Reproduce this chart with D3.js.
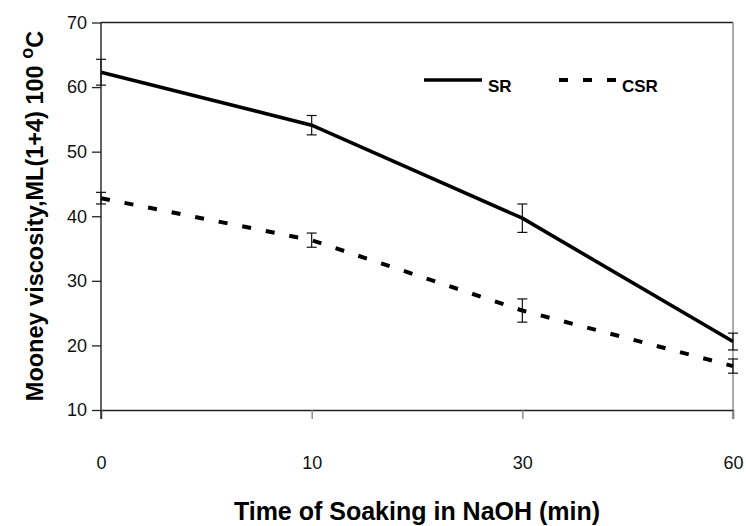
<!DOCTYPE html>
<html>
<head>
<meta charset="utf-8">
<script src="https://cdn.jsdelivr.net/npm/d3@7"></script>
<style>
  body { margin: 0; background: #fff; }
  text { font-family: "Liberation Sans", Arial, sans-serif; }
</style>
</head>
<body>
<div id="chart"></div>
<script>
// data
var times = ["0", "10", "30", "60"];
var srValues = [62.3, 54.1, 39.7, 20.6];
var srErrors = [2.0, 1.5, 2.2, 1.3];
var csrValues = [42.8, 36.3, 25.4, 16.8];
var csrErrors = [0.9, 1.1, 1.8, 1.1];
var yTicks = [10, 20, 30, 40, 50, 60, 70];

var margin = { top: 22.5, right: 13, bottom: 116, left: 101 },
    width = 746 - margin.left - margin.right,
    height = 526 - margin.top - margin.bottom;

var svg = d3.select("#chart").append("svg")
    .attr("width", 746)
    .attr("height", 526);

var g = svg.append("g")
    .attr("transform", "translate(" + margin.left + "," + margin.top + ")");

var x = d3.scalePoint().domain(times).range([0, width]);
var y = d3.scaleLinear().domain([10, 70]).range([height, 0]);

// frame top and right
g.append("line")
    .attr("x1", 0).attr("x2", width)
    .attr("y1", 0).attr("y2", 0)
    .style("stroke", "#222").style("stroke-width", 1.3);
g.append("line")
    .attr("x1", width).attr("x2", width)
    .attr("y1", 0).attr("y2", height + 9)
    .style("stroke", "#808080").style("stroke-width", 1.3);

// x axis
var xAxis = g.append("g")
    .attr("transform", "translate(0," + height + ")")
    .call(d3.axisBottom(x).tickSize(9).tickPadding(37));
xAxis.select(".domain").style("stroke", "#222").style("stroke-width", 1.3);
xAxis.selectAll(".tick line").style("stroke", "#808080").style("stroke-width", 1.3);
xAxis.selectAll("text").style("font-size", "18px").style("fill", "#111");

// y axis
var yAxis = g.append("g")
    .call(d3.axisLeft(y).tickValues(yTicks).tickSize(9).tickPadding(5));
yAxis.select(".domain").attr("d", "M0," + (height + 9) + "V0")
    .style("stroke", "#111").style("stroke-width", 1.3);
yAxis.selectAll(".tick line").style("stroke", "#222").style("stroke-width", 1.3);
yAxis.selectAll("text").style("font-size", "18px").style("fill", "#111");

function errorBars(values, errors) {
    var bars = g.append("g").selectAll("g")
        .data(values)
        .enter().append("g")
        .attr("transform", function (d, i) { return "translate(" + x(times[i]) + ",0)"; });
    bars.append("line")
        .attr("y1", function (d, i) { return y(d - errors[i]); })
        .attr("y2", function (d, i) { return y(d + errors[i]); });
    bars.append("line")
        .attr("x1", -5).attr("x2", 5)
        .attr("y1", function (d, i) { return y(d - errors[i]); })
        .attr("y2", function (d, i) { return y(d - errors[i]); });
    bars.append("line")
        .attr("x1", -5).attr("x2", 5)
        .attr("y1", function (d, i) { return y(d + errors[i]); })
        .attr("y2", function (d, i) { return y(d + errors[i]); });
    bars.selectAll("line").style("stroke", "#111").style("stroke-width", 1.2);
}

var line = d3.line()
    .x(function (d, i) { return x(times[i]); })
    .y(function (d) { return y(d); });

g.append("path")
    .datum(srValues)
    .attr("d", line)
    .style("fill", "none")
    .style("stroke", "#000")
    .style("stroke-width", 3.6);

g.append("path")
    .datum(csrValues)
    .attr("d", line)
    .style("fill", "none")
    .style("stroke", "#000")
    .style("stroke-width", 4)
    .style("stroke-dasharray", "9,15");

errorBars(srValues, srErrors);
errorBars(csrValues, csrErrors);

// legend
var legend = svg.append("g");
legend.append("line")
    .attr("x1", 424).attr("x2", 482).attr("y1", 80).attr("y2", 80)
    .style("stroke", "#000").style("stroke-width", 3.6);
legend.append("text")
    .attr("x", 488).attr("y", 91.5)
    .style("font-size", "17px").style("font-weight", "bold")
    .text("SR");
legend.append("line")
    .attr("x1", 559).attr("x2", 616).attr("y1", 80).attr("y2", 80)
    .style("stroke", "#000").style("stroke-width", 4)
    .style("stroke-dasharray", "9,15");
legend.append("text")
    .attr("x", 622).attr("y", 91.5)
    .style("font-size", "17px").style("font-weight", "bold")
    .text("CSR");

// axis titles
svg.append("text")
    .attr("x", margin.left + width / 2)
    .attr("y", 520)
    .attr("text-anchor", "middle")
    .style("font-size", "25px").style("font-weight", "bold")
    .text("Time of Soaking in NaOH (min)");

var yTitle = svg.append("text")
    .attr("transform", "translate(43," + 216 + ") rotate(-90)")
    .attr("text-anchor", "middle")
    .style("font-size", "23.5px").style("font-weight", "bold");
yTitle.append("tspan").text("Mooney viscosity,ML(1+4) 100 ");
yTitle.append("tspan").attr("dy", -10).style("font-size", "18px").text("o");
yTitle.append("tspan").attr("dy", 10).text("C");
</script>
</body>
</html>
